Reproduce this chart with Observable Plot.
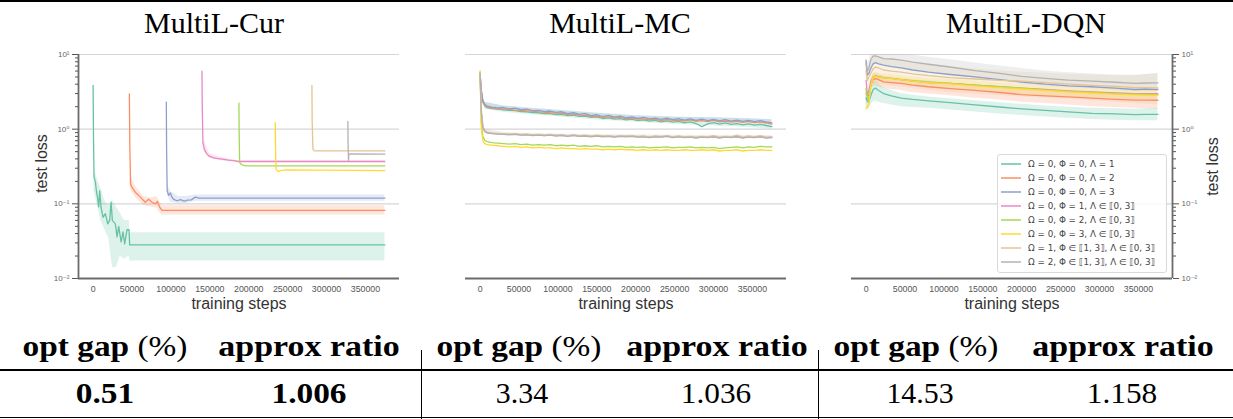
<!DOCTYPE html>
<html><head><meta charset="utf-8">
<script src="https://cdn.jsdelivr.net/npm/d3@7"></script>
<script src="https://cdn.jsdelivr.net/npm/@observablehq/plot@0.6"></script>
<style>
html,body{margin:0;padding:0;background:#fff;}
#root{position:relative;width:1233px;height:419px;overflow:hidden;font-family:"Liberation Serif","DejaVu Serif",serif;color:#000;}
.title{position:absolute;top:8px;font-size:30px;line-height:30px;white-space:nowrap;transform:translateX(-50%);}
.panel{position:absolute;top:40px;}
.rule{position:absolute;background:#000;}
.cell{position:absolute;font-size:29px;line-height:29px;white-space:nowrap;transform-origin:50% 50%;}
.legend{position:absolute;left:997px;top:154px;width:168px;height:117px;border:1px solid #d9d9d9;border-radius:3px;background:rgba(255,255,255,0.85);font-family:"DejaVu Sans",sans-serif;font-size:8.8px;color:#444;}
.lrow{position:absolute;left:0;height:12px;line-height:12px;white-space:nowrap;}
.lrow .sw{position:absolute;left:3px;top:5px;width:20px;height:2px;opacity:0.75;}
.lrow .lt{position:absolute;left:30px;top:0;}
</style></head>
<body><div id="root"></div>
<script>
// ---------- labels ----------
const panelTitles = ["MultiL-Cur", "MultiL-MC", "MultiL-DQN"];
const seriesNames = [
  "Ω = 0, Φ = 0, Λ = 1",
  "Ω = 0, Φ = 0, Λ = 2",
  "Ω = 0, Φ = 0, Λ = 3",
  "Ω = 0, Φ = 1, Λ ∈ ⟦0, 3⟧",
  "Ω = 0, Φ = 2, Λ ∈ ⟦0, 3⟧",
  "Ω = 0, Φ = 3, Λ ∈ ⟦0, 3⟧",
  "Ω = 1, Φ ∈ ⟦1, 3⟧, Λ ∈ ⟦0, 3⟧",
  "Ω = 2, Φ ∈ ⟦1, 3⟧, Λ ∈ ⟦0, 3⟧"
];
const colors = ["#66c2a5", "#fc8d62", "#8da0cb", "#e78ac3", "#a6d854", "#ffd92f", "#e5c494", "#b3b3b3"];
const xLabel = "training steps";
const yLabel = "test loss";
const xTickValues = [0, 50000, 100000, 150000, 200000, 250000, 300000, 350000];
const xTickLabels = ["0", "50000", "100000", "150000", "200000", "250000", "300000", "350000"];
const yTickValues = [0.01, 0.1, 1, 10];
const yTickLabels = ["10⁻²", "10⁻¹", "10⁰", "10¹"];
const yMinorTicks = [0.02,0.03,0.04,0.05,0.06,0.07,0.08,0.09,0.2,0.3,0.4,0.5,0.6,0.7,0.8,0.9,2,3,4,5,6,7,8,9];
const yGridValues = [0.1, 1, 10];
const xDomain = [-18750, 393750];
const yDomain = [0.01, 10];

// ---------- table ----------
const tableHeaders = ["opt gap", "(%)", "approx ratio"];
const tableOptGap = ["0.51", "3.34", "14.53"];
const tableApprox = ["1.006", "1.036", "1.158"];

// ---------- MultiL-Cur ----------
const curG_steps = [0, 500, 1200, 2950, 4200, 5900, 7200, 8500, 10200, 12800, 15800, 18800, 21300, 23100, 24800, 28600, 30800, 32900, 36000, 38500, 40600, 43600, 46200, 47000, 375000];
const curG_vals  = [3.85, 0.8, 0.23, 0.195, 0.151, 0.117, 0.091, 0.15, 0.09, 0.066, 0.074, 0.054, 0.06, 0.105, 0.06, 0.054, 0.036, 0.05, 0.031, 0.042, 0.029, 0.045, 0.045, 0.0282, 0.0282];
const curG_bandSteps = [1200, 5000, 10000, 15000, 20000, 25000, 30000, 35000, 40000, 46500, 47000, 375000];
const curG_lo = [0.15, 0.1, 0.06, 0.045, 0.035, 0.014, 0.014, 0.02, 0.018, 0.02, 0.0172, 0.0172];
const curG_hi = [0.3, 0.22, 0.16, 0.11, 0.095, 0.11, 0.09, 0.075, 0.06, 0.06, 0.041, 0.041];

const curO_steps = [46600, 47200, 48200, 50000, 54300, 60700, 67100, 71400, 75700, 80000, 82400, 85600, 88600, 375000];
const curO_vals  = [2.97, 0.6, 0.185, 0.166, 0.143, 0.123, 0.105, 0.115, 0.105, 0.1, 0.108, 0.09, 0.0818, 0.0818];
const curO_bandSteps = [47500, 55000, 65000, 75000, 82000, 86000, 88600, 375000];
const curO_lo = [0.16, 0.12, 0.095, 0.09, 0.088, 0.075, 0.071, 0.071];
const curO_hi = [0.24, 0.17, 0.125, 0.12, 0.125, 0.105, 0.094, 0.094];

const curB_steps = [94100, 94500, 95200, 97100, 99300, 101000, 103500, 107900, 112100, 117200, 121300, 126200, 131300, 136000, 375000];
const curB_vals  = [2.3, 0.5, 0.15, 0.13, 0.14, 0.125, 0.115, 0.11, 0.114, 0.109, 0.112, 0.113, 0.123, 0.119, 0.119];
const curB_bandSteps = [95500, 100000, 110000, 120000, 131000, 375000];
const curB_lo = [0.13, 0.105, 0.1, 0.101, 0.108, 0.108];
const curB_hi = [0.18, 0.145, 0.125, 0.125, 0.131, 0.131];

const curP_steps = [139900, 140300, 141200, 143500, 146000, 148400, 151500, 154900, 159000, 163400, 168000, 174000, 180500, 186500, 375000];
const curP_vals  = [5.98, 2.0, 0.64, 0.52, 0.47, 0.44, 0.425, 0.413, 0.405, 0.40, 0.395, 0.385, 0.38, 0.369, 0.369];
const curP_bandSteps = [142000, 150000, 165000, 186500, 375000];
const curP_lo = [0.52, 0.41, 0.375, 0.36, 0.36];
const curP_hi = [0.75, 0.47, 0.42, 0.378, 0.378];

const curL_steps = [187400, 187700, 188300, 190000, 192500, 196000, 375000];
const curL_vals  = [2.23, 0.9, 0.36, 0.34, 0.329, 0.323, 0.323];
const curY_steps = [234100, 234400, 235000, 236500, 238400, 242000, 249000, 375000];
const curY_vals  = [1.22, 0.6, 0.295, 0.278, 0.272, 0.28, 0.285, 0.278];
const curT_steps = [281200, 281500, 282500, 284000, 286000, 375000];
const curT_vals  = [3.85, 1.3, 0.545, 0.515, 0.511, 0.513];
const curGr_steps = [327400, 327700, 328200, 328700, 330500, 375000];
const curGr_vals  = [1.27, 0.6, 0.38, 0.462, 0.465, 0.463];

// ---------- MultiL-MC ----------
const mcSteps = [0, 1500, 3500, 6000, 9000, 15000, 22500, 30000, 37500, 45000,
  52500, 60000, 67500, 75000, 82500, 90000, 97500, 105000, 112500, 120000,
  127500, 135000, 142500, 150000, 157500, 165000, 172500, 180000, 187500, 195000,
  202500, 210000, 217500, 225000, 232500, 240000, 247500, 255000, 262500, 270000,
  277500, 285000, 292500, 300000, 307500, 315000, 322500, 330000, 337500, 345000,
  352500, 360000, 367500, 375000];
const mcG = [5.4, 3.2, 2.3, 2.05, 1.94, 1.88, 1.85, 1.82, 1.78, 1.77,
  1.72, 1.71, 1.67, 1.66, 1.62, 1.61, 1.57, 1.58, 1.52, 1.54,
  1.48, 1.49, 1.44, 1.46, 1.39, 1.42, 1.36, 1.38, 1.33, 1.36,
  1.30, 1.33, 1.28, 1.31, 1.25, 1.29, 1.24, 1.27, 1.21, 1.25,
  1.19, 1.08, 1.18, 1.22, 1.17, 1.21, 1.16, 1.19, 1.14, 1.18,
  1.13, 1.16, 1.12, 1.08];
const mcO = [5.6, 3.3, 2.35, 2.08, 1.97, 1.92, 1.88, 1.86, 1.84, 1.80,
  1.78, 1.75, 1.74, 1.70, 1.69, 1.66, 1.64, 1.63, 1.58, 1.60,
  1.54, 1.53, 1.49, 1.50, 1.44, 1.46, 1.42, 1.43, 1.38, 1.41,
  1.36, 1.37, 1.33, 1.36, 1.30, 1.34, 1.31, 1.32, 1.28, 1.33,
  1.27, 1.30, 1.26, 1.31, 1.25, 1.28, 1.24, 1.27, 1.23, 1.27,
  1.22, 1.25, 1.21, 1.17];
const mcB = [5.5, 3.4, 2.45, 2.15, 2.03, 1.97, 1.93, 1.95, 1.87, 1.91,
  1.82, 1.86, 1.76, 1.79, 1.72, 1.75, 1.68, 1.71, 1.62, 1.66,
  1.58, 1.61, 1.52, 1.56, 1.47, 1.53, 1.45, 1.49, 1.42, 1.46,
  1.39, 1.44, 1.37, 1.41, 1.35, 1.40, 1.34, 1.38, 1.32, 1.37,
  1.31, 1.36, 1.30, 1.35, 1.29, 1.34, 1.28, 1.32, 1.27, 1.31,
  1.26, 1.30, 1.25, 1.21];
const mcP = [5.7, 1.7, 1.08, 0.94, 0.9, 0.88, 0.87, 0.86, 0.85, 0.86,
  0.84, 0.85, 0.83, 0.84, 0.82, 0.84, 0.82, 0.83, 0.81, 0.83,
  0.81, 0.82, 0.80, 0.82, 0.80, 0.81, 0.79, 0.81, 0.80, 0.81,
  0.79, 0.80, 0.78, 0.80, 0.79, 0.81, 0.78, 0.80, 0.78, 0.79,
  0.77, 0.79, 0.78, 0.80, 0.77, 0.79, 0.78, 0.80, 0.77, 0.79,
  0.78, 0.80, 0.77, 0.78];
const mcL = [5.7, 1.25, 0.8, 0.71, 0.68, 0.66, 0.65, 0.64, 0.63, 0.64,
  0.62, 0.63, 0.61, 0.62, 0.61, 0.62, 0.60, 0.61, 0.60, 0.61,
  0.59, 0.60, 0.59, 0.60, 0.58, 0.59, 0.58, 0.59, 0.57, 0.58,
  0.57, 0.58, 0.56, 0.57, 0.57, 0.58, 0.56, 0.57, 0.57, 0.58,
  0.56, 0.57, 0.56, 0.57, 0.55, 0.56, 0.57, 0.58, 0.56, 0.58,
  0.57, 0.59, 0.58, 0.58];
const mcY = [6.1, 1.1, 0.7, 0.64, 0.62, 0.61, 0.60, 0.59, 0.58, 0.59,
  0.57, 0.58, 0.56, 0.57, 0.56, 0.56, 0.55, 0.56, 0.55, 0.55,
  0.54, 0.55, 0.54, 0.54, 0.53, 0.54, 0.53, 0.54, 0.53, 0.53,
  0.52, 0.53, 0.52, 0.53, 0.52, 0.53, 0.52, 0.52, 0.53, 0.52,
  0.52, 0.53, 0.52, 0.53, 0.51, 0.52, 0.52, 0.53, 0.51, 0.52,
  0.52, 0.53, 0.52, 0.52];
const mcT = [5.8, 1.8, 1.1, 0.95, 0.91, 0.89, 0.88, 0.87, 0.86, 0.87,
  0.85, 0.86, 0.84, 0.85, 0.84, 0.85, 0.83, 0.84, 0.82, 0.84,
  0.82, 0.83, 0.81, 0.83, 0.81, 0.82, 0.80, 0.82, 0.81, 0.82,
  0.80, 0.81, 0.79, 0.81, 0.80, 0.82, 0.79, 0.81, 0.79, 0.80,
  0.78, 0.80, 0.79, 0.82, 0.78, 0.80, 0.79, 0.83, 0.78, 0.81,
  0.79, 0.82, 0.78, 0.79];
const mcGr = [5.6, 1.75, 1.06, 0.93, 0.89, 0.87, 0.86, 0.85, 0.84, 0.85,
  0.83, 0.84, 0.82, 0.83, 0.82, 0.83, 0.81, 0.82, 0.80, 0.82,
  0.80, 0.81, 0.79, 0.81, 0.79, 0.80, 0.78, 0.80, 0.79, 0.80,
  0.78, 0.79, 0.77, 0.79, 0.78, 0.80, 0.77, 0.79, 0.77, 0.78,
  0.76, 0.78, 0.77, 0.79, 0.76, 0.78, 0.77, 0.79, 0.76, 0.78,
  0.77, 0.79, 0.76, 0.77];
const mcBandSteps = [6000, 30000, 60000, 100000, 150000, 200000, 250000, 300000, 340000, 375000];
const mcG_lo = [1.85, 1.68, 1.58, 1.47, 1.33, 1.24, 1.16, 1.1, 1.06, 1.0];
const mcG_hi = [2.3, 2.05, 1.92, 1.8, 1.65, 1.52, 1.46, 1.42, 1.38, 1.34];
const mcB_lo = [2.0, 1.85, 1.74, 1.62, 1.48, 1.38, 1.3, 1.26, 1.22, 1.16];
const mcB_hi = [2.3, 2.05, 1.92, 1.78, 1.62, 1.5, 1.44, 1.42, 1.39, 1.34];
const mcGr_lo = [0.88, 0.83, 0.81, 0.8, 0.78, 0.77, 0.76, 0.75, 0.75, 0.74];
const mcGr_hi = [1.0, 0.9, 0.88, 0.86, 0.84, 0.84, 0.83, 0.83, 0.83, 0.82];

// ---------- MultiL-DQN ----------
const dqnSteps = [0, 1500, 3500, 6000, 9000, 12000, 16000, 22500, 32500, 45000, 60000, 80000, 108000, 140000, 172000, 200000, 230000, 260000, 290000, 320000, 345000, 360000, 375000];
const dqnG  = [2.6, 2.4, 2.3, 2.8, 3.4, 3.55, 3.3, 3.0, 2.8, 2.6, 2.5, 2.4, 2.27, 2.12, 1.98, 1.87, 1.78, 1.7, 1.63, 1.6, 1.57, 1.58, 1.58];
const dqnO  = [3.0, 2.8, 2.85, 3.9, 4.6, 4.75, 4.6, 4.3, 4.2, 4.1, 3.9, 3.7, 3.5, 3.3, 3.1, 2.9, 2.8, 2.7, 2.6, 2.5, 2.45, 2.45, 2.44];
const dqnB  = [8.4, 5.3, 5.55, 6.5, 7.5, 7.8, 7.5, 7.2, 6.9, 6.6, 6.2, 5.8, 5.4, 5.0, 4.6, 4.28, 4.0, 3.8, 3.7, 3.55, 3.4, 3.45, 3.39];
const dqnP  = [4.5, 3.0, 3.2, 4.3, 5.0, 5.2, 5.0, 4.9, 4.8, 4.6, 4.4, 4.2, 4.1, 3.9, 3.7, 3.55, 3.4, 3.25, 3.15, 3.05, 3.0, 3.0, 3.0];
const dqnL  = [3.5, 2.6, 2.5, 4.0, 5.0, 5.15, 5.0, 4.9, 4.8, 4.6, 4.45, 4.3, 4.1, 3.9, 3.7, 3.55, 3.35, 3.2, 3.1, 3.0, 2.95, 2.92, 2.9];
const dqnY  = [1.9, 2.0, 2.1, 3.8, 4.9, 5.1, 4.95, 4.85, 4.75, 4.6, 4.4, 4.2, 4.05, 3.8, 3.6, 3.45, 3.3, 3.15, 3.05, 2.95, 2.88, 2.86, 2.85];
const dqnT  = [6.0, 4.5, 5.0, 5.6, 6.4, 6.8, 6.6, 6.2, 6.0, 5.8, 5.5, 5.2, 4.9, 4.7, 4.5, 4.4, 4.2, 4.0, 3.85, 3.75, 3.6, 3.6, 3.56];
const dqnGr = [7.5, 6.0, 6.5, 8.5, 9.5, 9.6, 9.3, 8.8, 8.7, 8.4, 7.9, 7.4, 6.8, 6.1, 5.6, 5.1, 4.8, 4.55, 4.4, 4.25, 4.1, 4.15, 4.16];
const dqnG_lo  = [2.1, 1.9, 1.8, 2.1, 2.3, 2.4, 2.3, 2.2, 2.1, 2.0, 1.95, 1.9, 1.8, 1.7, 1.6, 1.52, 1.45, 1.4, 1.35, 1.32, 1.3, 1.3, 1.3];
const dqnG_hi  = [3.2, 3.0, 2.9, 3.4, 4.2, 4.4, 4.1, 3.6, 3.3, 3.0, 2.85, 2.7, 2.55, 2.4, 2.25, 2.15, 2.05, 1.97, 1.9, 1.87, 1.85, 1.88, 1.9];
const dqnO_lo  = [2.4, 2.2, 2.3, 3.1, 3.7, 3.8, 3.7, 3.5, 3.4, 3.3, 3.1, 2.95, 2.8, 2.6, 2.45, 2.3, 2.2, 2.1, 2.0, 1.95, 1.9, 1.88, 1.85];
const dqnO_hi  = [3.5, 3.3, 3.4, 4.6, 5.4, 5.6, 5.4, 5.1, 4.9, 4.8, 4.6, 4.4, 4.15, 3.9, 3.7, 3.45, 3.35, 3.2, 3.1, 3.0, 2.95, 2.95, 2.95];
const dqnY_lo  = [1.7, 1.8, 1.9, 3.2, 4.2, 4.4, 4.3, 4.2, 4.1, 3.95, 3.8, 3.6, 3.45, 3.25, 3.1, 2.95, 2.8, 2.7, 2.6, 2.5, 2.45, 2.43, 2.4];
const dqnY_hi  = [2.2, 2.3, 2.4, 4.4, 5.6, 5.8, 5.6, 5.5, 5.4, 5.25, 5.0, 4.8, 4.65, 4.4, 4.15, 3.95, 3.8, 3.6, 3.5, 3.4, 3.3, 3.3, 3.3];
const dqnT_lo  = [3.5, 2.8, 3.0, 3.6, 4.0, 4.2, 4.1, 3.9, 3.8, 3.7, 3.5, 3.3, 3.1, 2.95, 2.8, 2.7, 2.6, 2.5, 2.4, 2.3, 2.2, 2.15, 2.1];
const dqnT_hi  = [8.0, 6.5, 7.0, 8.0, 8.8, 9.2, 9.0, 8.6, 8.3, 8.0, 7.6, 7.2, 6.8, 6.4, 6.0, 5.8, 5.6, 5.4, 5.3, 5.2, 5.3, 5.4, 5.5];
const dqnGr_lo = [6.0, 4.8, 5.2, 6.5, 7.5, 7.7, 7.4, 7.0, 6.9, 6.6, 6.2, 5.8, 5.3, 4.8, 4.4, 4.0, 3.8, 3.6, 3.5, 3.35, 3.2, 3.2, 3.2];
const dqnGr_hi = [9.0, 7.5, 8.0, 10, 11, 11.2, 11, 10.6, 10.5, 10.2, 9.8, 9.2, 8.5, 7.7, 7.0, 6.5, 6.0, 5.7, 5.5, 5.3, 5.2, 5.4, 5.6];

// ---------- helpers ----------
const lineRows = (steps, vals) => steps.map((x, i) => ({x, y: vals[i]}));
const bandRows = (steps, lo, hi) => steps.map((x, i) => ({x, lo: lo[i], hi: hi[i]}));

function makePanel({width, mL, mR, series, bands, yAxis}) {
  const marks = [];
  marks.push(Plot.gridY(yGridValues, {stroke: "#d6d6d6", strokeOpacity: 1, strokeWidth: 1.2}));
  for (const b of bands) marks.push(Plot.areaY(b.rows, {x: "x", y1: "lo", y2: "hi", fill: colors[b.c], fillOpacity: 0.22, clip: true}));
  for (const s of series) marks.push(Plot.line(s.rows, {x: "x", y: "y", stroke: colors[s.c], strokeWidth: 1.3, clip: true}));
  marks.push(Plot.ruleY([yDomain[0]], {stroke: "#6b6b6b", strokeWidth: 1.8}));
  marks.push(Plot.axisX(xTickValues, {tickSize: 0, tickPadding: 7, fontSize: 8.8, fill: "#555", label: null,
    tickFormat: d => xTickLabels[xTickValues.indexOf(d)]}));
  marks.push(Plot.text([xLabel], {text: d => d, frameAnchor: "bottom", lineAnchor: "middle", textAnchor: "middle", dy: 25, fontSize: 16, fill: "#333"}));
  if (yAxis) {
    const edge = yAxis === "left" ? xDomain[0] : xDomain[1];
    marks.push(Plot.ruleX([edge], {stroke: "#6b6b6b", strokeWidth: 1.8}));
    marks.push(Plot.axisY(yMinorTicks, {anchor: yAxis, tickSize: 3, stroke: "#555", label: null, tickFormat: () => ""}));
    marks.push(Plot.axisY(yTickValues, {anchor: yAxis, tickSize: 6, tickPadding: 3, stroke: "#555", fill: "#666", fontSize: 8, label: null,
      tickFormat: d => yTickLabels[yTickValues.indexOf(d)]}));
    marks.push(Plot.text([yLabel], {text: d => d, frameAnchor: yAxis, textAnchor: "middle", lineAnchor: "middle",
      dx: yAxis === "left" ? -37 : 40, dy: yAxis === "left" ? -3 : 0, rotate: -90, fontSize: 16, fill: "#333"}));
  }
  return Plot.plot({
    width, height: 272, marginLeft: mL, marginRight: mR, marginTop: 14, marginBottom: 34,
    style: {fontFamily: '"Liberation Sans", "DejaVu Sans", sans-serif', background: "transparent", overflow: "visible"},
    x: {domain: xDomain},
    y: {type: "log", domain: yDomain, axis: yAxis ? undefined : null},
    marks
  });
}

const root = document.getElementById("root");
function addDiv(cls, css, html) {
  const d = document.createElement("div");
  d.className = cls;
  Object.assign(d.style, css);
  if (html !== undefined) d.innerHTML = html;
  root.appendChild(d);
  return d;
}

// top rule
addDiv("rule", {left: "0px", top: "0px", width: "1233px", height: "2px"});

// titles
const titleCenters = [214, 620, 1026];
panelTitles.forEach((t, i) => addDiv("title", {left: titleCenters[i] + "px"}, t));

// panels
const p1 = makePanel({
  width: 410, mL: 78, mR: 11, yAxis: "left",
  bands: [
    {c: 0, rows: bandRows(curG_bandSteps, curG_lo, curG_hi)},
    {c: 1, rows: bandRows(curO_bandSteps, curO_lo, curO_hi)},
    {c: 2, rows: bandRows(curB_bandSteps, curB_lo, curB_hi)},
    {c: 3, rows: bandRows(curP_bandSteps, curP_lo, curP_hi)}
  ],
  series: [
    {c: 0, rows: lineRows(curG_steps, curG_vals)},
    {c: 1, rows: lineRows(curO_steps, curO_vals)},
    {c: 2, rows: lineRows(curB_steps, curB_vals)},
    {c: 3, rows: lineRows(curP_steps, curP_vals)},
    {c: 4, rows: lineRows(curL_steps, curL_vals)},
    {c: 5, rows: lineRows(curY_steps, curY_vals)},
    {c: 6, rows: lineRows(curT_steps, curT_vals)},
    {c: 7, rows: lineRows(curGr_steps, curGr_vals)}
  ]
});
const p2 = makePanel({
  width: 410, mL: 55, mR: 34, yAxis: null,
  bands: [
    {c: 0, rows: bandRows(mcBandSteps, mcG_lo, mcG_hi)},
    {c: 2, rows: bandRows(mcBandSteps, mcB_lo, mcB_hi)},
    {c: 7, rows: bandRows(mcBandSteps, mcGr_lo, mcGr_hi)}
  ],
  series: [
    {c: 0, rows: lineRows(mcSteps, mcG)},
    {c: 1, rows: lineRows(mcSteps, mcO)},
    {c: 2, rows: lineRows(mcSteps, mcB)},
    {c: 3, rows: lineRows(mcSteps, mcP)},
    {c: 4, rows: lineRows(mcSteps, mcL)},
    {c: 5, rows: lineRows(mcSteps, mcY)},
    {c: 6, rows: lineRows(mcSteps, mcT)},
    {c: 7, rows: lineRows(mcSteps, mcGr)}
  ]
});
const p3 = makePanel({
  width: 413, mL: 31, mR: 61, yAxis: "right",
  bands: [
    {c: 0, rows: bandRows(dqnSteps, dqnG_lo, dqnG_hi)},
    {c: 1, rows: bandRows(dqnSteps, dqnO_lo, dqnO_hi)},
    {c: 5, rows: bandRows(dqnSteps, dqnY_lo, dqnY_hi)},
    {c: 6, rows: bandRows(dqnSteps, dqnT_lo, dqnT_hi)},
    {c: 7, rows: bandRows(dqnSteps, dqnGr_lo, dqnGr_hi)}
  ],
  series: [
    {c: 0, rows: lineRows(dqnSteps, dqnG)},
    {c: 1, rows: lineRows(dqnSteps, dqnO)},
    {c: 2, rows: lineRows(dqnSteps, dqnB)},
    {c: 3, rows: lineRows(dqnSteps, dqnP)},
    {c: 4, rows: lineRows(dqnSteps, dqnL)},
    {c: 5, rows: lineRows(dqnSteps, dqnY)},
    {c: 6, rows: lineRows(dqnSteps, dqnT)},
    {c: 7, rows: lineRows(dqnSteps, dqnGr)}
  ]
});
[[p1, 0], [p2, 410], [p3, 820]].forEach(([svg, left]) => {
  const w = document.createElement("div");
  w.className = "panel";
  w.style.left = left + "px";
  w.appendChild(svg);
  root.appendChild(w);
});

// legend
const legend = addDiv("legend", {});
seriesNames.forEach((name, i) => {
  const r = document.createElement("div");
  r.className = "lrow";
  r.style.top = (2.7 + i * 14.05) + "px";
  r.innerHTML = `<div class="sw" style="background:${colors[i]}"></div><div class="lt">${name}</div>`;
  legend.appendChild(r);
});

// table
const groupCenters = [[105, 309], [519, 717], [916, 1123]];
const valueCenters = [[105, 309], [522, 716], [920, 1122]];
groupCenters.forEach(([a, b]) => {
  addDiv("cell", {left: a + "px", top: "332px", transform: "translateX(-50%) scaleX(1.15)"},
    `<b>${tableHeaders[0]}</b> ${tableHeaders[1]}`);
  addDiv("cell", {left: b + "px", top: "332px", transform: "translateX(-50%) scaleX(1.17)"},
    `<b>${tableHeaders[2]}</b>`);
});
valueCenters.forEach(([a, b], i) => {
  const bold = i === 0;
  addDiv("cell", {left: a + "px", top: "379px", transform: bold ? "translateX(-50%) scaleX(1.15)" : "translateX(-50%) scaleX(1.03)"},
    bold ? `<b>${tableOptGap[i]}</b>` : tableOptGap[i]);
  addDiv("cell", {left: b + "px", top: "379px", transform: bold ? "translateX(-50%) scaleX(1.15)" : "translateX(-50%) scaleX(1.08)"},
    bold ? `<b>${tableApprox[i]}</b>` : tableApprox[i]);
});
addDiv("rule", {left: "0px", top: "369px", width: "1233px", height: "2px"});
addDiv("rule", {left: "0px", top: "417px", width: "1233px", height: "1.3px"});
addDiv("rule", {left: "421px", top: "350px", width: "1px", height: "69px"});
addDiv("rule", {left: "818px", top: "350px", width: "1px", height: "69px"});
</script>
</body></html>
